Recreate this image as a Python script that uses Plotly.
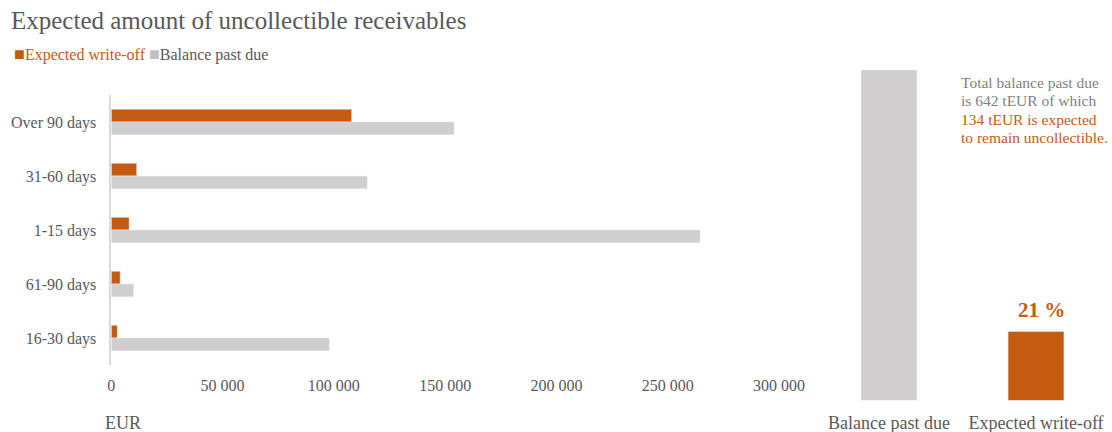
import plotly.graph_objects as go

# ---- data ----
categories = ["Over 90 days", "31-60 days", "1-15 days", "61-90 days", "16-30 days"]
write_off = [108000, 11400, 8000, 4000, 2700]
balance_past_due = [154000, 115000, 264500, 10000, 98000]
x_ticks = [0, 50000, 100000, 150000, 200000, 250000, 300000]
summary_labels = ["Balance past due", "Expected write-off"]

ORANGE = "#C55A11"
GREY_BAR = "#D0CECE"
TEXT_GREY = "#595959"
LIGHT_TEXT = "#7F7F7F"
FONT = "Liberation Serif, Times New Roman, serif"

total_balance = sum(balance_past_due)
total_write_off = sum(write_off)
summary_values = [total_balance / 1000, total_write_off / 1000]
share_pct = round(100 * total_write_off / total_balance)

W, H = 1112, 432


def px_x(p):
    return p / W


def px_y(p):
    return 1 - p / H


fig = go.Figure()

fig.add_trace(go.Bar(
    name="Expected write-off",
    y=categories, x=write_off, orientation="h",
    marker=dict(color=ORANGE), xaxis="x", yaxis="y", showlegend=False,
    hovertemplate="%{y}: %{x:,.0f} EUR<extra>Expected write-off</extra>",
))
fig.add_trace(go.Bar(
    name="Balance past due",
    y=categories, x=balance_past_due, orientation="h",
    marker=dict(color=GREY_BAR), xaxis="x", yaxis="y", showlegend=False,
    hovertemplate="%{y}: %{x:,.0f} EUR<extra>Balance past due</extra>",
))

fig.add_trace(go.Bar(
    x=summary_labels, y=summary_values,
    marker=dict(color=[GREY_BAR, ORANGE]), xaxis="x2", yaxis="y2",
    showlegend=False, width=0.38,
    hovertemplate="%{x}: %{y:.0f} tEUR<extra></extra>",
))

fig.update_layout(
    width=W, height=H,
    margin=dict(l=0, r=0, t=0, b=0, autoexpand=False),
    paper_bgcolor="white", plot_bgcolor="white",
    font=dict(family=FONT, color=TEXT_GREY, size=16),
    separators=". ",
    barmode="group", bargap=0.53, bargroupgap=0,
    title=dict(text="Expected amount of uncollectible receivables",
               x=px_x(11), xanchor="left", y=px_y(20), yanchor="middle",
               font=dict(family=FONT, size=25, color=TEXT_GREY)),
    showlegend=False,
    xaxis=dict(domain=[px_x(111.3), px_x(779)], range=[0, 300000], automargin=False,
               tickvals=x_ticks, tickformat=",d", showgrid=False, zeroline=False,
               showline=False, ticks="outside", ticklen=6, tickcolor="rgba(0,0,0,0)",
               tickfont=dict(size=16, color=TEXT_GREY),
               anchor="y", fixedrange=True),
    yaxis=dict(domain=[px_y(365), px_y(95)], categoryorder="array", automargin=False,
               categoryarray=categories, autorange="reversed",
               showline=True, linecolor="#D9D9D9", linewidth=1.5,
               ticks="outside", ticklen=10, tickcolor="rgba(0,0,0,0)",
               showgrid=False, zeroline=False,
               tickfont=dict(size=16, color=TEXT_GREY), anchor="x", fixedrange=True),
    xaxis2=dict(domain=[px_x(889 - 0.3 * 147), px_x(1036 + 0.3 * 147)], anchor="y2",
                range=[-0.3, 1.3], automargin=False,
                showline=False, showgrid=False, zeroline=False,
                ticks="outside", ticklen=6, tickcolor="rgba(0,0,0,0)",
                tickfont=dict(size=18, color=TEXT_GREY), fixedrange=True),
    yaxis2=dict(domain=[px_y(400.5), px_y(70)], anchor="x2", automargin=False,
                range=[0, summary_values[0]], visible=False, fixedrange=True),
)

# legend (coloured text with square markers, as in the reference)
legend_text = (
    '<span style="color:%s;font-size:18px">■</span>'
    '<span style="color:%s">Expected write-off\u00a0</span>'
    '<span style="color:#BFBFBF;font-size:18px">■</span>'
    '<span style="color:%s">Balance past due</span>'
    % (ORANGE, ORANGE, TEXT_GREY)
)
fig.add_annotation(
    text=legend_text, xref="paper", yref="paper", x=px_x(12), y=px_y(54),
    xanchor="left", yanchor="middle", showarrow=False,
    font=dict(family=FONT, size=16, color=TEXT_GREY),
)

fig.add_annotation(
    text="EUR", xref="paper", yref="paper", x=px_x(103), y=px_y(423),
    xanchor="left", yanchor="middle", showarrow=False,
    font=dict(family=FONT, size=18, color=TEXT_GREY),
)

fig.add_annotation(
    text="%d %%" % share_pct, xref="x2", yref="y2",
    x=summary_labels[1], y=summary_values[1],
    yanchor="bottom", yshift=7, xshift=5, showarrow=False,
    font=dict(family=FONT, size=21, color=ORANGE, weight="bold"),
)

note_lines = [
    ("Total balance past due", LIGHT_TEXT),
    ("is %d tEUR of which" % round(total_balance / 1000), LIGHT_TEXT),
    ("%d tEUR is expected" % round(total_write_off / 1000), ORANGE),
    ("to remain uncollectible.", ORANGE),
]
note_y = [82, 100.5, 119, 137.5]
for (line, col), yy in zip(note_lines, note_y):
    fig.add_annotation(
        text=line, xref="paper", yref="paper", x=px_x(959), y=px_y(yy),
        xanchor="left", yanchor="middle", showarrow=False,
        font=dict(family=FONT, size=15.5, color=col),
    )

fig.write_html(
    "out.html",
    config={"displayModeBar": False},
    post_script="document.body.style.margin='0';document.body.style.overflow='hidden';",
)
